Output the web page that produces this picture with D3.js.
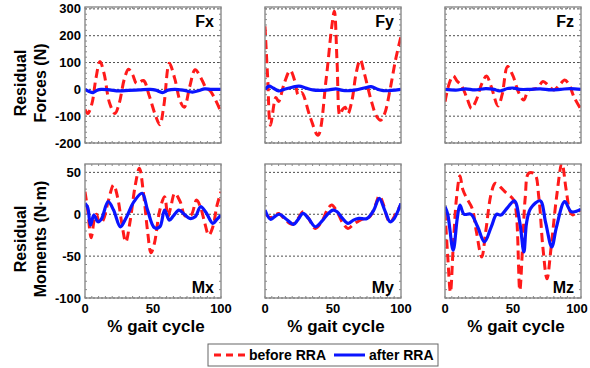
<!DOCTYPE html>
<html>
<head>
  <script src="https://cdn.jsdelivr.net/npm/d3@7"></script>
  <style>
    body { margin: 0; background: #fff; }
    text { font-family: Arial, 'Liberation Sans', sans-serif; font-weight: bold; }
  </style>
</head>
<body>
  <svg width="590" height="368" id="mainsvg"></svg>
  <script>
    // tick labels
    const xTicks = [0, 50, 100];
    const forceTicks = [300, 200, 100, 0, -100, -200];
    const momentTicks = [50, 0, -50, -100];

    // [% gait cycle, residual]
    const fxBefore = [[0,-75],[2,-90],[5,-55],[8,40],[11,104],[14,60],[18,-50],[22,-90],[25,-55],[29,40],[32,75],[35,55],[38,22],[43,33],[47,-20],[52,-100],[55,-132],[58,-60],[62,97],[66,40],[70,-45],[73,-67],[77,10],[81,73],[86,35],[89,5],[92,-5],[96,-40],[100,-84]];
    const fxAfter = [[0,0],[3,-8],[6,-12],[9,-3],[12,0],[18,-2],[25,-6],[32,-4],[40,-2],[48,0],[52,-3],[57,-12],[61,-3],[66,0],[72,-3],[79,-10],[84,-4],[88,2],[93,0],[100,0]];
    const fyBefore = [[0,235],[2,40],[4,-134],[8,-30],[10,-45],[14,20],[18.5,70],[22,30],[24.5,-21],[27,-12],[33,-100],[39,-171],[45,40],[49,230],[51,291],[53,100],[55,-96],[57,-75],[59,-67],[61,-90],[64,-40],[67,60],[70,110],[73,60],[78,-40],[82,-100],[85,-115],[88,-90],[92,0],[96,110],[100,198]];
    const fyAfter = [[0,0],[3,12],[6,5],[10,-6],[14,0],[20,8],[25,12],[30,5],[35,-2],[40,-4],[47,-2],[52,2],[57,-4],[62,-5],[67,-2],[73,5],[78,10],[83,0],[87,-5],[93,-4],[100,0]];
    const fzBefore = [[0,-46],[3,20],[6,50],[9,30],[12,15],[16,-30],[19.5,-71],[23,-40],[27,20],[30.5,50],[34,10],[39,-62],[42,-20],[46,85],[50,50],[54,-10],[58,-40],[61,-5],[64,0],[68,5],[72,29],[76,15],[80,-2],[84,15],[88,35],[91,20],[95,-30],[100,-75]];
    const fzAfter = [[0,0],[8,-3],[15,2],[22,-2],[30,3],[36,0],[40,-6],[46,3],[50,5],[55,0],[62,0],[70,2],[78,-2],[85,0],[92,3],[100,0]];
    const mxBefore = [[0,27],[2,5],[4.5,-28],[7,-5],[8.5,0],[10.5,-10],[13,-8],[17,15],[21,35],[24,20],[27,-10],[30,-33],[33,-10],[37,35],[40,55],[43,25],[46,-20],[48.5,-46],[51,-35],[55,5],[58.5,21],[61,-3],[63,8],[66,25],[70,15],[73.6,-2],[78,-1],[82,17],[85,8],[88,-10],[91,-25],[94,-15],[97,10],[100,27]];
    const mxAfter = [[0,13],[2,8],[4,-13],[6.5,-1],[9.5,-9],[12,-6],[17,15],[21,5],[26,-15],[30,-5],[36,15],[42,25],[46,5],[51,-16],[55,-15],[58.5,5],[62,-7],[65,-2],[69,5],[73,0],[77,-5],[81,-3],[85,9],[89,2],[94,-11],[97,-6],[100,-1]];
    const myBefore = [[0,1],[4,-4],[7,-2],[10,1],[15,-7],[20,-12],[24,-6],[28,3],[32,-5],[37,-17],[42,-8],[46,6],[49,11],[53,3],[57,-10],[61,-17],[65,-12],[69,-8],[73,-5],[77,-3],[81,10],[84,22],[87,12],[90,-5],[92,-10],[95,-3],[100,12]];
    const myAfter = [[0,5],[4,-6],[7,-3],[10.6,0],[15,-5],[21,-12],[24,-7],[28,1],[32,-5],[37,-15],[42,-8],[46,0],[50,5],[53,3],[57,-5],[61,-11],[65,-7],[69,-5],[75,-5],[80,5],[84,19],[88,5],[92,-9],[95,-5],[100,13]];
    const mzBefore = [[0,3],[2,-50],[4,-93],[6,-40],[8.5,20],[11,46],[13,30],[16,19],[20,7],[23,-20],[27,-51],[30,-20],[34,25],[37,37],[41,32],[44,27],[50.5,17],[52.5,0],[55,-91],[57,-40],[59,20],[61.5,49],[66,48],[69,20],[72,-40],[75,-77],[78,-40],[82,20],[86,61],[89,30],[92,3],[94,-1],[97,3],[100,5]];
    const mzAfter = [[0,9],[2,0],[6,-43],[9,-5],[11,11],[14,0],[19,0],[24,-15],[29,-33],[34,-15],[38,0],[41,-1],[46,8],[51,16],[55,-10],[58,-45],[60,-10],[63,7],[70,16],[74,-10],[78.5,-39],[82,-15],[88,15],[93,3],[100,6]];

    const panels = [
      { name: 'Fx', row: 0, col: 0, before: fxBefore, after: fxAfter },
      { name: 'Fy', row: 0, col: 1, before: fyBefore, after: fyAfter },
      { name: 'Fz', row: 0, col: 2, before: fzBefore, after: fzAfter },
      { name: 'Mx', row: 1, col: 0, before: mxBefore, after: mxAfter },
      { name: 'My', row: 1, col: 1, before: myBefore, after: myAfter },
      { name: 'Mz', row: 1, col: 2, before: mzBefore, after: mzAfter }
    ];

    const svg = d3.select('#mainsvg');
    const colLeft = [85, 265, 445];
    const panelW = 136;
    const rows = [
      { top: 7, bottom: 143, domain: [-200, 307], ticks: forceTicks, minor: 20, label: ['Residual', 'Forces (N)'] },
      { top: 164, bottom: 298, domain: [-100, 60], ticks: momentTicks, minor: 10, label: ['Residual', 'Moments (N\u00b7m)'] }
    ];

    panels.forEach((p, i) => {
      const r = rows[p.row];
      const left = colLeft[p.col];
      const x = d3.scaleLinear().domain([0, 100]).range([left, left + panelW]);
      const y = d3.scaleLinear().domain(r.domain).range([r.bottom, r.top]);
      const g = svg.append('g');

      // dotted gridlines
      g.selectAll('line.grid')
        .data(r.ticks)
        .enter().append('line')
        .attr('x1', left).attr('x2', left + panelW)
        .attr('y1', d => y(d)).attr('y2', d => y(d))
        .attr('stroke', '#222').attr('stroke-width', 0.8)
        .attr('stroke-dasharray', '2,2');

      // small inward ticks on all sides
      const yMinor = d3.range(r.domain[0], r.domain[1], r.minor);
      g.selectAll('line.ly').data(yMinor).enter().append('line')
        .attr('x1', left).attr('x2', left + 2)
        .attr('y1', d => y(d)).attr('y2', d => y(d))
        .attr('stroke', '#888');
      g.selectAll('line.ry').data(yMinor).enter().append('line')
        .attr('x1', left + panelW - 2).attr('x2', left + panelW)
        .attr('y1', d => y(d)).attr('y2', d => y(d))
        .attr('stroke', '#888');
      const xMinor = d3.range(0, 101, 5);
      g.selectAll('line.bx').data(xMinor).enter().append('line')
        .attr('x1', d => x(d)).attr('x2', d => x(d))
        .attr('y1', r.bottom).attr('y2', r.bottom - 2)
        .attr('stroke', '#888');
      g.selectAll('line.tx').data(xMinor).enter().append('line')
        .attr('x1', d => x(d)).attr('x2', d => x(d))
        .attr('y1', r.top).attr('y2', r.top + 2)
        .attr('stroke', '#888');

      // curves, clipped to the box
      svg.append('clipPath').attr('id', 'clip' + i)
        .append('rect').attr('x', left).attr('y', r.top)
        .attr('width', panelW).attr('height', r.bottom - r.top);
      const line = d3.line()
        .x(d => x(d[0])).y(d => y(d[1]))
        .curve(d3.curveCatmullRom.alpha(0.5));
      const lg = g.append('g').attr('clip-path', `url(#clip${i})`);
      lg.append('path').attr('d', line(p.before))
        .attr('fill', 'none').attr('stroke', '#ff1a1a')
        .attr('stroke-width', 3).attr('stroke-dasharray', '9,5');
      lg.append('path').attr('d', line(p.after))
        .attr('fill', 'none').attr('stroke', '#0a14ff')
        .attr('stroke-width', 3.2);

      // box
      g.append('rect')
        .attr('x', left).attr('y', r.top)
        .attr('width', panelW).attr('height', r.bottom - r.top)
        .attr('fill', 'none').attr('stroke', '#8a8a8a').attr('stroke-width', 1.4);

      // panel name
      g.append('text')
        .attr('x', left + panelW - 7)
        .attr('y', p.row === 0 ? r.top + 20 : r.bottom - 5)
        .attr('text-anchor', 'end')
        .attr('font-size', 16)
        .text(p.name);

      // y tick labels on first column
      if (p.col === 0) {
        g.selectAll('text.yt').data(r.ticks).enter().append('text')
          .attr('x', left - 4)
          .attr('y', d => y(d) + 4.5)
          .attr('text-anchor', 'end')
          .attr('font-size', 13)
          .text(d => d);
        const cy = (r.top + r.bottom) / 2 + 8;
        r.label.forEach((t, k) => {
          g.append('text')
            .attr('transform', `translate(${26 + k * 20}, ${cy}) rotate(-90)`)
            .attr('text-anchor', 'middle')
            .attr('font-size', 16)
            .text(t);
        });
      }

      // x tick labels on bottom row (last one kept inside the page)
      if (p.row === 1) {
        g.selectAll('text.xt').data(xTicks).enter().append('text')
          .attr('x', d => Math.min(x(d), 589 - 12))
          .attr('y', r.bottom + 15)
          .attr('text-anchor', 'middle')
          .attr('font-size', 13)
          .text(d => d);
        g.append('text')
          .attr('x', left + panelW / 2 + 3)
          .attr('y', r.bottom + 34)
          .attr('text-anchor', 'middle')
          .attr('font-size', 17)
          .text('% gait cycle');
      }
    });

    // legend
    const leg = svg.append('g');
    leg.append('rect')
      .attr('x', 208).attr('y', 344).attr('width', 230).attr('height', 22)
      .attr('fill', '#fff').attr('stroke', '#666').attr('stroke-width', 1);
    leg.append('line')
      .attr('x1', 214).attr('x2', 245).attr('y1', 355).attr('y2', 355)
      .attr('stroke', '#ff1a1a').attr('stroke-width', 3).attr('stroke-dasharray', '7,5');
    leg.append('text').attr('x', 249).attr('y', 360).attr('font-size', 14).text('before RRA');
    leg.append('line')
      .attr('x1', 334).attr('x2', 365).attr('y1', 355).attr('y2', 355)
      .attr('stroke', '#0a14ff').attr('stroke-width', 3);
    leg.append('text').attr('x', 369).attr('y', 360).attr('font-size', 14).text('after RRA');
  </script>
</body>
</html>
